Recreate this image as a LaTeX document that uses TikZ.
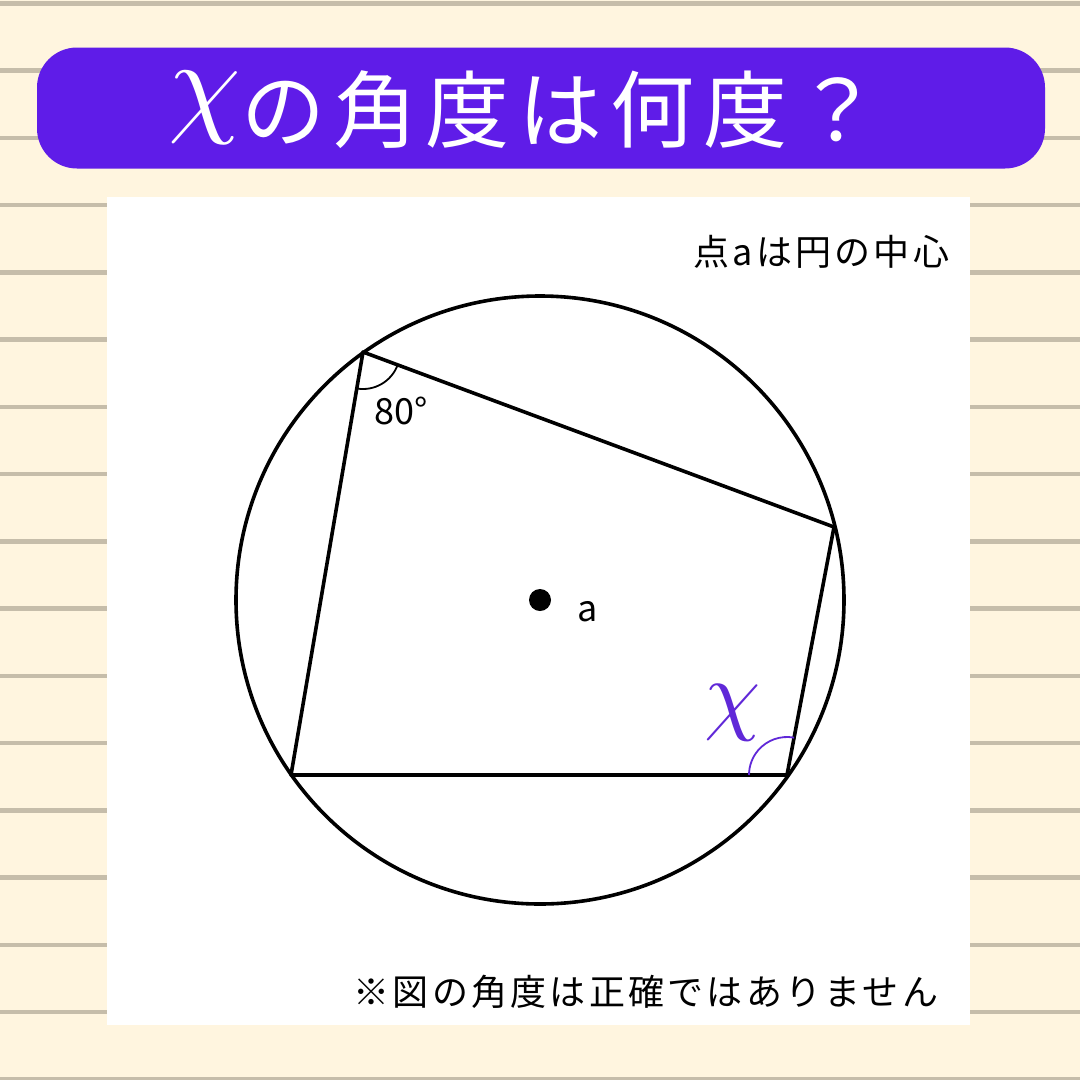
\documentclass[tikz,border=0pt]{standalone}
\usepackage{fontspec}
\setmainfont{Noto Sans CJK JP}
\newfontfamily\notefont[LetterSpace=9]{Noto Sans CJK JP}
\newfontfamily\titlefont[LetterSpace=10]{Noto Sans CJK JP}
\usetikzlibrary{angles, positioning}

\definecolor{paper}{HTML}{FFF5DF}
\definecolor{rule}{HTML}{C6BDAA}
\definecolor{banner}{HTML}{5F1CE8}
\definecolor{xpurple}{HTML}{6028D8}

\begin{document}
\begin{tikzpicture}[
    x=1pt, y=-1pt,
    every node/.style={inner sep=0pt, outer sep=0pt},
    edge/.style={line width=3.6pt, line join=round},
    arcmark/.style={line width=1.8pt},
    note/.style={font=\notefont\fontsize{36}{40}\selectfont},
    figlabel/.style={font=\fontsize{36}{40}\selectfont},
    dot/.style={circle, fill=black, minimum size=22pt}
]

% Background
\useasboundingbox (0,0) rectangle (1080,1080);
\fill[paper] (0,0) rectangle (1080,1080);
\foreach \k in {0,...,16}
    \fill[rule] (0,{1+67.25*\k}) rectangle (1080,{5.5+67.25*\k});

% Title
\node[fill=banner, rounded corners=40pt, minimum width=1008pt, minimum height=121pt] (banner) at (541,108) {};
\node[text=white, font=\titlefont\fontsize{84}{90}\selectfont] (title) at (524,110)
    {\raisebox{20pt}{\scalebox{11.6}{\normalsize$\chi$}}の角度は何度？};

% Board
\fill[white] (107,197) rectangle (970,1025);

% Circle and quadrilateral
\node[circle, draw, edge, minimum size=608pt] (rim) at (540,600) {};
\coordinate (A) at (363,352);
\coordinate (B) at (834,527);
\coordinate (C) at (787,775);
\coordinate (D) at (291,775);
\draw[edge] (A) -- (B) -- (C) -- (D) -- cycle;

% Angles
\pic[draw, arcmark, angle radius=37pt] {angle=D--A--B};
\pic[draw=xpurple, arcmark, angle radius=38pt] {angle=B--C--D};

% Labels
\node[dot] (center) at (540,600) {};
\node[figlabel, right=26pt of center, yshift=-12pt] (alabel) {a};
\node[figlabel] (deg) at (401,411) {80°};
\node[text=xpurple] (xmark) at (733,713) {\scalebox{9}{$\chi$}};
\node[note, anchor=east] (hint) at (949,252) {点aは円の中心};
\node[note, anchor=east] (warn) at (938,992) {※図の角度は正確ではありません};

\end{tikzpicture}
\end{document}
